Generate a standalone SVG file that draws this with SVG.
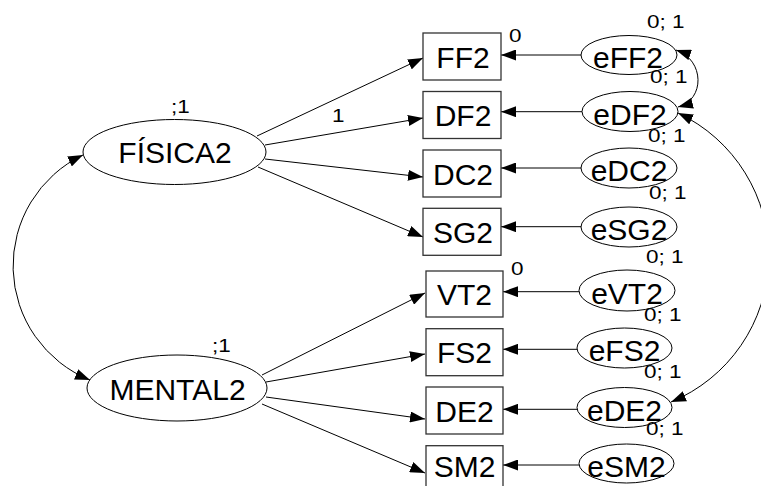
<svg xmlns="http://www.w3.org/2000/svg" width="761" height="486" viewBox="0 0 761 486">
  <defs>
    <style>
      .bg { fill: #ffffff; }
      .box { fill: #ffffff; stroke: #333333; stroke-width: 1.3; }
      .ell { fill: #ffffff; stroke: #000000; stroke-width: 1; }
      .lbl { font-family: "Liberation Sans", Arial, Helvetica, sans-serif; font-size: 30px; fill: #000000; text-anchor: middle; }
      .sm { font-family: "Liberation Sans", Arial, Helvetica, sans-serif; font-size: 18px; fill: #000000; }
      .edge { fill: none; stroke: #000000; stroke-width: 1; }
    </style>
    <marker id="arrow" viewBox="0 0 15 11" refX="15" refY="5.5" markerWidth="15" markerHeight="11" markerUnits="userSpaceOnUse" orient="auto-start-reverse">
      <path d="M0,0 L15,5.5 L0,11 z" fill="#000000"/>
    </marker>
  </defs>

  <rect class="bg" x="0" y="0" width="761" height="486"/>

  <!-- connectors -->
  <g id="connectors">
    <!-- loadings of FÍSICA2 -->
    <path class="edge" d="M257,136 L423,58" marker-end="url(#arrow)"/>
    <path class="edge" d="M265,145 L423,118" marker-end="url(#arrow)"/>
    <path class="edge" d="M265,159 L423,177" marker-end="url(#arrow)"/>
    <path class="edge" d="M258,167 L423,237" marker-end="url(#arrow)"/>
    <!-- loadings of MENTAL2 -->
    <path class="edge" d="M262,375 L425,293" marker-end="url(#arrow)"/>
    <path class="edge" d="M266,382 L425,354" marker-end="url(#arrow)"/>
    <path class="edge" d="M266,397 L425,419" marker-end="url(#arrow)"/>
    <path class="edge" d="M262,404 L425,473" marker-end="url(#arrow)"/>
    <!-- error terms -->
    <path class="edge" d="M581,55 L501,55" marker-end="url(#arrow)"/>
    <path class="edge" d="M582,111.7 L501,111.7" marker-end="url(#arrow)"/>
    <path class="edge" d="M581,168 L501,168" marker-end="url(#arrow)"/>
    <path class="edge" d="M581,226.7 L501,226.7" marker-end="url(#arrow)"/>
    <path class="edge" d="M579,291.7 L503,291.7" marker-end="url(#arrow)"/>
    <path class="edge" d="M577,349.3 L503,349.3" marker-end="url(#arrow)"/>
    <path class="edge" d="M577,409.3 L503,409.3" marker-end="url(#arrow)"/>
    <path class="edge" d="M579,465 L503,465" marker-end="url(#arrow)"/>
    <!-- covariances -->
    <path class="edge" d="M83,155 A123,123 0 0 0 90,380" marker-start="url(#arrow)" marker-end="url(#arrow)"/>
    <path class="edge" d="M676,50 C705,60 705,100 678,107" marker-start="url(#arrow)" marker-end="url(#arrow)"/>
    <path class="edge" d="M678,113 A158,158 0 0 1 671,402" marker-start="url(#arrow)" marker-end="url(#arrow)"/>
    <!-- path labels -->
    <text class="sm" transform="translate(332,122) scale(1.25 1)">1</text>
    <text class="sm" transform="translate(509,41.7) scale(1.25 1)">0</text>
    <text class="sm" transform="translate(511,275) scale(1.25 1)">0</text>
  </g>

  <!-- latent factors -->
  <g id="fisica2">
    <ellipse class="ell" cx="174.5" cy="152" rx="91.5" ry="32.5"/>
    <text class="lbl" x="175" y="163">FÍSICA2</text>
    <text class="sm" transform="translate(171,113) scale(1.25 1)">;1</text>
  </g>
  <g id="mental2">
    <ellipse class="ell" cx="177" cy="388" rx="90" ry="33"/>
    <text class="lbl" x="177.5" y="400">MENTAL2</text>
    <text class="sm" transform="translate(212,352) scale(1.25 1)">;1</text>
  </g>

  <!-- observed indicators -->
  <g id="ff2">
    <rect class="box" x="423" y="33" width="78" height="47"/>
    <text class="lbl" x="463" y="67.5">FF2</text>
  </g>
  <g id="df2">
    <rect class="box" x="423" y="91.5" width="78" height="47"/>
    <text class="lbl" x="463" y="126">DF2</text>
  </g>
  <g id="dc2">
    <rect class="box" x="423" y="150" width="78" height="47"/>
    <text class="lbl" x="463" y="184.5">DC2</text>
  </g>
  <g id="sg2">
    <rect class="box" x="423" y="208.3" width="78" height="47"/>
    <text class="lbl" x="463" y="243">SG2</text>
  </g>
  <g id="vt2">
    <rect class="box" x="426" y="271" width="77" height="46"/>
    <text class="lbl" x="464.5" y="305">VT2</text>
  </g>
  <g id="fs2">
    <rect class="box" x="426" y="328.7" width="77" height="47"/>
    <text class="lbl" x="464.5" y="363">FS2</text>
  </g>
  <g id="de2">
    <rect class="box" x="426" y="387" width="77" height="47"/>
    <text class="lbl" x="464.5" y="421.5">DE2</text>
  </g>
  <g id="sm2">
    <rect class="box" x="426" y="445.7" width="77" height="47"/>
    <text class="lbl" x="464.5" y="477">SM2</text>
  </g>

  <!-- error terms -->
  <g id="eff2">
    <ellipse class="ell" cx="629" cy="55" rx="48" ry="19.5"/>
    <text class="lbl" x="628" y="68">eFF2</text>
    <text class="sm" transform="translate(647,27.7) scale(1.25 1)">0; 1</text>
  </g>
  <g id="edf2">
    <ellipse class="ell" cx="630" cy="111.5" rx="48" ry="20"/>
    <text class="lbl" x="630" y="124.5">eDF2</text>
    <text class="sm" transform="translate(650,83) scale(1.25 1)">0; 1</text>
  </g>
  <g id="edc2">
    <ellipse class="ell" cx="629" cy="168" rx="48" ry="20"/>
    <text class="lbl" x="629" y="181">eDC2</text>
    <text class="sm" transform="translate(648,141.5) scale(1.25 1)">0; 1</text>
  </g>
  <g id="esg2">
    <ellipse class="ell" cx="629" cy="227" rx="48" ry="20"/>
    <text class="lbl" x="629" y="240">eSG2</text>
    <text class="sm" transform="translate(649,199) scale(1.25 1)">0; 1</text>
  </g>
  <g id="evt2">
    <ellipse class="ell" cx="627" cy="290.5" rx="48" ry="20.5"/>
    <text class="lbl" x="627" y="303.5">eVT2</text>
    <text class="sm" transform="translate(646,263) scale(1.25 1)">0; 1</text>
  </g>
  <g id="efs2">
    <ellipse class="ell" cx="624.5" cy="348" rx="47.5" ry="20"/>
    <text class="lbl" x="624.5" y="361">eFS2</text>
    <text class="sm" transform="translate(644,321) scale(1.25 1)">0; 1</text>
  </g>
  <g id="ede2">
    <ellipse class="ell" cx="624.5" cy="407.5" rx="47.5" ry="20"/>
    <text class="lbl" x="624.5" y="420.5">eDE2</text>
    <text class="sm" transform="translate(644,378) scale(1.25 1)">0; 1</text>
  </g>
  <g id="esm2">
    <ellipse class="ell" cx="626.5" cy="463.5" rx="47.5" ry="19.5"/>
    <text class="lbl" x="626.5" y="476.5">eSM2</text>
    <text class="sm" transform="translate(646,435) scale(1.25 1)">0; 1</text>
  </g>
</svg>
